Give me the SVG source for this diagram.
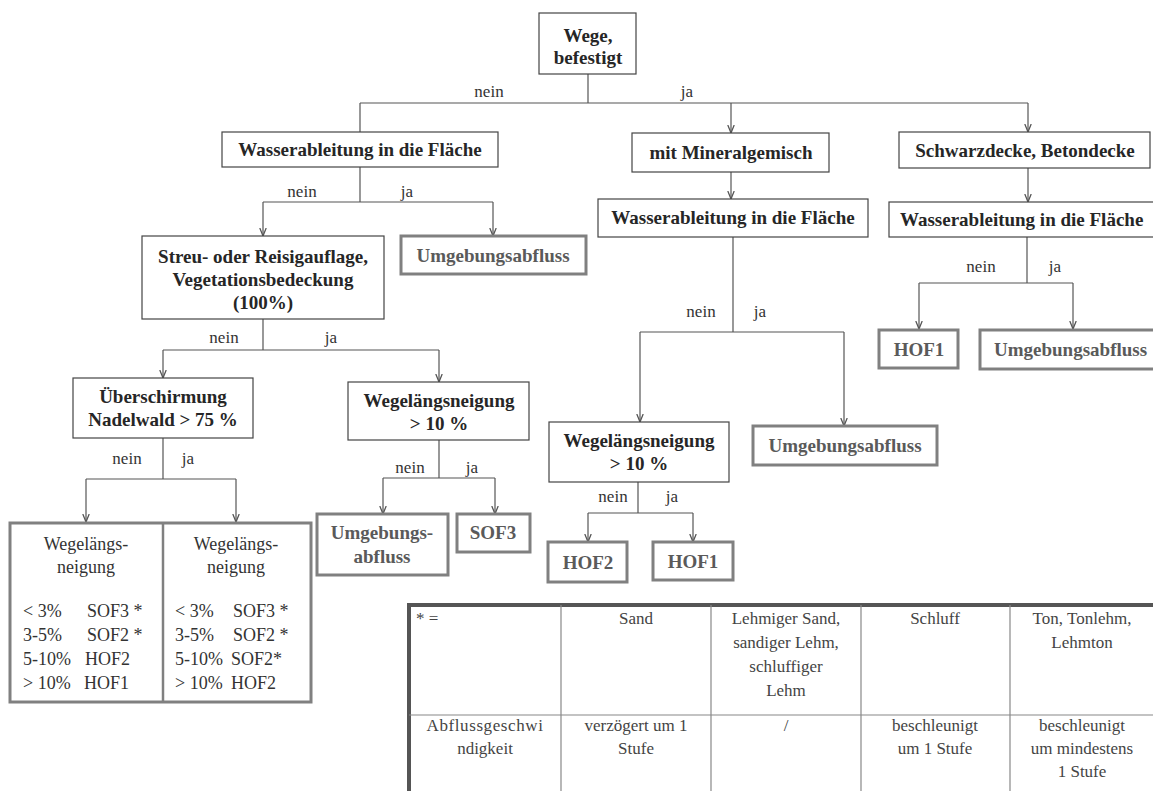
<svg xmlns="http://www.w3.org/2000/svg" width="1153" height="791" viewBox="0 0 1153 791">
<defs>
<marker id="ah" viewBox="0 0 10 10" refX="10" refY="5" markerWidth="8" markerHeight="8" markerUnits="userSpaceOnUse" orient="auto">
<path d="M0,1 L10,5 L0,9" fill="none" stroke="#555" stroke-width="1.6"/>
</marker>
<style>
.dec{fill:#fff;stroke:#444;stroke-width:1.2}
.res{fill:#fff;stroke:#808080;stroke-width:3}
.bt{font-family:"Liberation Serif","Times New Roman",serif;font-weight:bold;font-size:19px;fill:#262626;text-anchor:middle}
.rt{font-family:"Liberation Serif","Times New Roman",serif;font-weight:bold;font-size:19px;fill:#5a5a5a;text-anchor:middle}
.lb{font-family:"Liberation Serif","Times New Roman",serif;font-size:17px;fill:#333;text-anchor:middle}
.tx{font-family:"Liberation Serif","Times New Roman",serif;font-size:18px;fill:#333}
.tb{font-family:"Liberation Serif","Times New Roman",serif;font-size:17px;fill:#444;text-anchor:middle}
.st{text-anchor:start}
.ln{fill:none;stroke:#555;stroke-width:1.2}
.ar{fill:none;stroke:#555;stroke-width:1.2;marker-end:url(#ah)}
.tl{stroke:#888;stroke-width:1.2}
</style>
</defs>
<rect width="1153" height="791" fill="#fff"/>

<g id="connectors">
<path class="ln" d="M588,74 V103 M360,103 H1028 M360,103 V132"/>
<path class="ar" d="M731,103 V133"/>
<path class="ar" d="M1028,103 V132"/>
<path class="ln" d="M360,167 V202 M263,202 H493"/>
<path class="ar" d="M263,202 V236"/>
<path class="ar" d="M493,202 V236"/>
<path class="ln" d="M263,319 V350 M163,350 H439"/>
<path class="ar" d="M163,350 V378"/>
<path class="ar" d="M439,350 V382"/>
<path class="ln" d="M163,438 V479 M86,479 H236"/>
<path class="ar" d="M86,479 V522"/>
<path class="ar" d="M236,479 V522"/>
<path class="ln" d="M439,440 V478 M383,478 H495"/>
<path class="ar" d="M383,478 V514"/>
<path class="ar" d="M495,478 V514"/>
<path class="ar" d="M731,172 V199"/>
<path class="ln" d="M733,237 V332 M640,332 H844"/>
<path class="ar" d="M640,332 V422"/>
<path class="ar" d="M844,332 V426"/>
<path class="ln" d="M638,482 V513 M588,513 H693"/>
<path class="ar" d="M588,513 V542"/>
<path class="ar" d="M693,513 V542"/>
<path class="ar" d="M1028,168 V202"/>
<path class="ln" d="M1027,237 V283 M919,283 H1073"/>
<path class="ar" d="M919,283 V329"/>
<path class="ar" d="M1073,283 V329"/>
<text class="lb" x="489" y="97">nein</text>
<text class="lb" x="687" y="97">ja</text>
<text class="lb" x="302" y="197">nein</text>
<text class="lb" x="407" y="197">ja</text>
<text class="lb" x="224" y="343">nein</text>
<text class="lb" x="331" y="343">ja</text>
<text class="lb" x="127" y="464">nein</text>
<text class="lb" x="188" y="464">ja</text>
<text class="lb" x="410" y="473">nein</text>
<text class="lb" x="472" y="473">ja</text>
<text class="lb" x="701" y="317">nein</text>
<text class="lb" x="760" y="317">ja</text>
<text class="lb" x="613" y="502">nein</text>
<text class="lb" x="672" y="502">ja</text>
<text class="lb" x="981" y="272">nein</text>
<text class="lb" x="1055" y="272">ja</text>
</g>

<g id="root">
<rect class="dec" x="539" y="13" width="97" height="61"/>
<text class="bt" x="588" y="42">Wege,</text>
<text class="bt" x="588" y="64">befestigt</text>
</g>

<g id="wasser-links">
<rect class="dec" x="222" y="132" width="276" height="35"/>
<text class="bt" x="360" y="156">Wasserableitung in die Fläche</text>
</g>

<g id="streu">
<rect class="dec" x="142" y="236" width="242" height="83"/>
<text class="bt" x="263" y="263">Streu- oder Reisigauflage,</text>
<text class="bt" x="263" y="286">Vegetationsbedeckung</text>
<text class="bt" x="263" y="309">(100%)</text>
</g>

<g id="umgebung-1">
<rect class="res" x="401" y="236" width="185" height="38"/>
<text class="rt" x="493" y="262">Umgebungsabfluss</text>
</g>

<g id="ueberschirmung">
<rect class="dec" x="73" y="378" width="180" height="60"/>
<text class="bt" x="163" y="403">Überschirmung</text>
<text class="bt" x="163" y="426">Nadelwald &gt; 75 %</text>
</g>

<g id="neigung-1">
<rect class="dec" x="348" y="382" width="181" height="58"/>
<text class="bt" x="439" y="407">Wegelängsneigung</text>
<text class="bt" x="439" y="430">&gt; 10 %</text>
</g>

<g id="neigung-tabelle">
<rect class="res" x="10" y="523" width="301" height="179"/>
<line x1="163" y1="523" x2="163" y2="702" stroke="#808080" stroke-width="2.5"/>
<text class="tx" x="86" y="550" text-anchor="middle">Wegelängs-</text>
<text class="tx" x="86" y="573" text-anchor="middle">neigung</text>
<text class="tx" x="23" y="617">&lt; 3%</text><text class="tx" x="87" y="617">SOF3 *</text>
<text class="tx" x="23" y="641">3-5%</text><text class="tx" x="87" y="641">SOF2 *</text>
<text class="tx" x="23" y="665">5-10%</text><text class="tx" x="85" y="665">HOF2</text>
<text class="tx" x="23" y="689">&gt; 10%</text><text class="tx" x="84" y="689">HOF1</text>
<text class="tx" x="236" y="550" text-anchor="middle">Wegelängs-</text>
<text class="tx" x="236" y="573" text-anchor="middle">neigung</text>
<text class="tx" x="175" y="617">&lt; 3%</text><text class="tx" x="233" y="617">SOF3 *</text>
<text class="tx" x="175" y="641">3-5%</text><text class="tx" x="233" y="641">SOF2 *</text>
<text class="tx" x="175" y="665">5-10%</text><text class="tx" x="231" y="665">SOF2*</text>
<text class="tx" x="175" y="689">&gt; 10%</text><text class="tx" x="231" y="689">HOF2</text>
</g>

<g id="umgebung-2">
<rect class="res" x="317" y="514" width="131" height="61"/>
<text class="rt" x="382" y="539">Umgebungs-</text>
<text class="rt" x="382" y="563">abfluss</text>
</g>

<g id="sof3">
<rect class="res" x="457" y="514" width="73" height="38"/>
<text class="rt" x="493" y="539">SOF3</text>
</g>

<g id="mineral">
<rect class="dec" x="632" y="133" width="197" height="39"/>
<text class="bt" x="731" y="159">mit Mineralgemisch</text>
</g>

<g id="wasser-mitte">
<rect class="dec" x="598" y="199" width="270" height="38"/>
<text class="bt" x="733" y="224">Wasserableitung in die Fläche</text>
</g>

<g id="neigung-2">
<rect class="dec" x="549" y="422" width="180" height="60"/>
<text class="bt" x="639" y="447">Wegelängsneigung</text>
<text class="bt" x="639" y="470">&gt; 10 %</text>
</g>

<g id="umgebung-3">
<rect class="res" x="753" y="426" width="184" height="39"/>
<text class="rt" x="845" y="452">Umgebungsabfluss</text>
</g>

<g id="hof2">
<rect class="res" x="548" y="542" width="79" height="40"/>
<text class="rt" x="588" y="569">HOF2</text>
</g>

<g id="hof1-mitte">
<rect class="res" x="653" y="542" width="80" height="38"/>
<text class="rt" x="693" y="568">HOF1</text>
</g>

<g id="schwarzdecke">
<rect class="dec" x="899" y="132" width="251" height="36"/>
<text class="bt" x="1025" y="157">Schwarzdecke, Betondecke</text>
</g>

<g id="wasser-rechts">
<rect class="dec" x="889" y="202" width="280" height="35"/>
<text class="bt st" x="900" y="226">Wasserableitung in die Fläche</text>
</g>

<g id="hof1-rechts">
<rect class="res" x="879" y="330" width="79" height="38"/>
<text class="rt" x="919" y="356">HOF1</text>
</g>

<g id="umgebung-4">
<rect class="res" x="980" y="330" width="190" height="39"/>
<text class="rt st" x="994" y="356">Umgebungsabfluss</text>
</g>

<g id="bodentabelle">
<rect x="409" y="605" width="760" height="200" fill="#fff" stroke="#888" stroke-width="1.2"/>
<path d="M409,805 V605 H1169" fill="none" stroke="#555" stroke-width="4"/>
<line class="tl" x1="561" y1="605" x2="561" y2="791"/>
<line class="tl" x1="711" y1="605" x2="711" y2="791"/>
<line class="tl" x1="861" y1="605" x2="861" y2="791"/>
<line class="tl" x1="1010" y1="605" x2="1010" y2="791"/>
<line class="tl" x1="409" y1="715" x2="1153" y2="715"/>
<text class="tb st" x="416" y="624">* =</text>
<text class="tb" x="636" y="624">Sand</text>
<text class="tb" x="786" y="624">Lehmiger Sand,</text>
<text class="tb" x="786" y="648">sandiger Lehm,</text>
<text class="tb" x="786" y="672">schluffiger</text>
<text class="tb" x="786" y="696">Lehm</text>
<text class="tb" x="935" y="624">Schluff</text>
<text class="tb" x="1082" y="624">Ton, Tonlehm,</text>
<text class="tb" x="1082" y="648">Lehmton</text>
<text class="tb" x="485" y="731" letter-spacing="0.6">Abflussgeschwi</text>
<text class="tb" x="485" y="754">ndigkeit</text>
<text class="tb" x="636" y="731">verzögert um 1</text>
<text class="tb" x="636" y="754">Stufe</text>
<text class="tb" x="786" y="731">/</text>
<text class="tb" x="935" y="731">beschleunigt</text>
<text class="tb" x="935" y="754">um 1 Stufe</text>
<text class="tb" x="1082" y="731">beschleunigt</text>
<text class="tb" x="1082" y="754">um mindestens</text>
<text class="tb" x="1082" y="777">1 Stufe</text>
</g>
</svg>
